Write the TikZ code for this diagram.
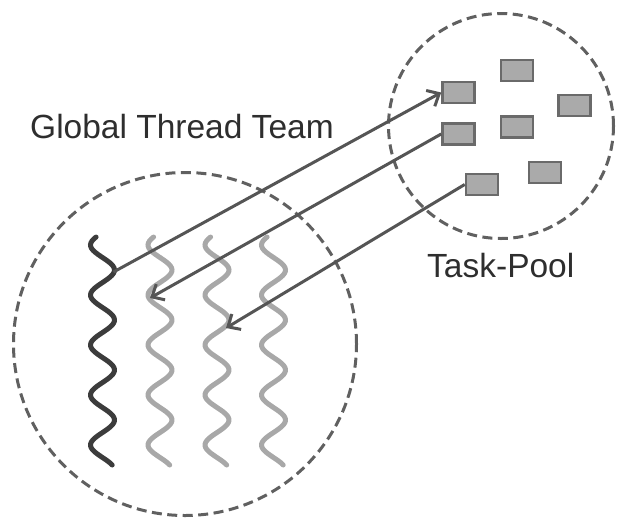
\documentclass[tikz,border=0pt]{standalone}
\usepackage{fontspec}
\setmainfont{Liberation Sans}
\usetikzlibrary{arrows.meta}
\definecolor{dashgray}{HTML}{606060}
\definecolor{arrowgray}{HTML}{555555}
\definecolor{darkthread}{HTML}{3C3C3C}
\definecolor{lightthread}{HTML}{A8A8A8}
\definecolor{taskfill}{HTML}{AAAAAA}
\definecolor{taskline}{HTML}{6A6A6A}
\definecolor{labelgray}{HTML}{2E2E2E}
\tikzset{
  poolcircle/.style={circle, draw=dashgray, line width=3pt, dash pattern=on 10pt off 5.5pt, inner sep=0pt},
  taskbox/.style={rectangle, draw=taskline, fill=taskfill, line width=2.6pt, minimum width=32pt, minimum height=21pt, inner sep=0pt},
  masterthr/.style={draw=darkthread, line width=5pt, line cap=round},
  workerthr/.style={draw=lightthread, line width=5pt, line cap=round},
  flow/.style={draw=arrowgray, line width=3pt, -{Straight Barb[length=10pt,width=18pt,line width=3pt]}},
  lbl/.style={text=labelgray, font=\fontsize{33.5}{38}\selectfont, inner sep=0pt, anchor=base west}
}
\begin{document}
\begin{tikzpicture}[x=1pt,y=-1pt]
\useasboundingbox (0,0) rectangle (617,520);
% circles
\node[poolcircle, minimum size=343pt] (team) at (185,344) {};
\node[poolcircle, minimum size=225pt] (pool) at (501,126) {};
% labels
\node[lbl] (teamlbl) at (30,138) {Global Thread Team};
\node[lbl] (poollbl) at (427,277) {Task-Pool};
% tasks
\node[taskbox] (rA) at (458.5,92.5) {};
\node[taskbox] (rB) at (517,70.5) {};
\node[taskbox] (rC) at (574.5,105.5) {};
\node[taskbox] (rD) at (458.5,134) {};
\node[taskbox] (rE) at (517,127) {};
\node[taskbox] (rF) at (545,172.5) {};
\node[taskbox] (rG) at (482,184.5) {};
% threads
\draw[masterthr] plot[domain=-33:195, samples=120, smooth] ({102.5+12*cos(7.2*\x)}, {270+\x});
\draw[workerthr] plot[domain=-33:195, samples=120, smooth] ({160+12*cos(7.2*\x)}, {270+\x});
\draw[workerthr] plot[domain=-33:195, samples=120, smooth] ({217+12*cos(7.2*\x)}, {270+\x});
\draw[workerthr] plot[domain=-33:195, samples=120, smooth] ({273.5+12*cos(7.2*\x)}, {270+\x});
% thread attachment points
\coordinate (t1) at (113.5,272);
\coordinate (t2) at (150,298);
\coordinate (t3) at (226,328);
% arrows
\draw[flow] (t1) -- (rA.west);
\draw[flow] (rD.west) -- (t2);
\draw[flow] (rG.west) -- (t3);
\end{tikzpicture}
\end{document}
